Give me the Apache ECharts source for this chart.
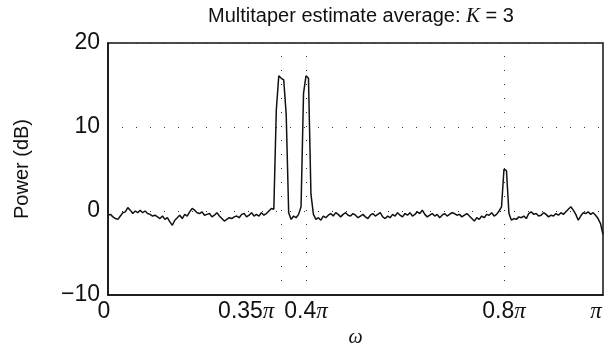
<!DOCTYPE html>
<html>
<head>
<meta charset="utf-8">
<script src="https://cdn.jsdelivr.net/npm/echarts@6/dist/echarts.min.js"></script>
<style>
  html, body { margin: 0; padding: 0; background: #fff; }
  #chart { width: 608px; height: 353px; }
</style>
</head>
<body>
<div id="chart"></div>
<script>
// Frequency axis in units of pi, sampled every 0.005*pi from 0 to pi
const freqStep = 0.005;

// Averaged multitaper power spectrum estimate (dB), one value per bin
const powerDb = [
  -0.5, -0.4, -0.7, -0.9, -1.0, -0.6, -0.2, -0.1,  0.4,  0.1,
  -0.3,  0.0, -0.2,  0.1, -0.2,  0.0, -0.3, -0.4, -0.6, -0.5,
  -0.7, -0.9, -0.6, -1.0, -0.8, -1.3, -1.7, -1.1, -0.8, -0.5,
  -0.9, -0.4, -0.6, -0.1,  0.3,  0.1, -0.2, -0.3, -0.1, -0.5,
  -0.4, -0.3, -0.7, -0.5, -0.2, -0.6, -0.9, -1.2, -1.0, -0.8,
  -0.9, -0.7, -0.6, -0.8, -0.4, -0.3, -0.7, -0.5, -0.2, -0.6,
  -0.4, -0.6, -0.2, -0.5, -0.3,  0.0,  0.3,  0.2, 12.0, 16.1,
  15.8, 15.6, 11.5, -0.2, -1.0, -0.6, -0.8, -0.4,  0.5, 14.0,
  16.1, 15.8,  2.0, -0.4, -1.0, -0.8, -1.1, -0.6, -0.8, -0.5,
  -0.3, -0.6, -0.2, -0.4, -0.7, -0.4, -0.2, -0.5, -0.6, -0.3,
  -0.5, -0.8, -0.6, -0.4, -0.7, -0.9, -0.5, -0.3, -0.6, -0.4,
  -0.2, -0.7, -0.9, -0.6, -0.8, -0.4, -0.6, -0.2, -0.5, -0.7,
  -0.3, -0.5, -0.2, -0.6, -0.4, -0.1, -0.3,  0.1, -0.4, -0.7,
  -0.5, -0.3, -0.6, -0.4, -0.8, -0.5, -0.3, -0.6, -0.4, -0.2,
  -0.3, -0.5, -0.4, -0.7, -0.5, -0.3, -0.6, -0.9, -1.2, -0.8,
  -1.0, -0.6, -0.8, -0.4, -0.5, -0.2, -0.6, -0.4,  0.0,  0.5,
   5.0,  4.8, -0.3, -1.1, -0.9, -1.0, -0.7, -0.8, -0.6, -0.9,
  -0.3, -0.1, -0.4, -0.3, -0.6, -0.5, -0.2, -0.4, -0.7, -0.5,
  -0.6, -0.3, -0.5, -0.2, -0.4, -0.1,  0.2,  0.5,  0.1, -0.4,
  -1.1, -0.6, -0.2, -0.3, -0.1, -0.4, -0.2, -0.5, -0.9, -1.5,
  -2.8
];

// Tick positions on the frequency axis (multiples of pi) and their labels
const xTicks = [0, 0.35, 0.4, 0.8, 1];
const xTickLabels = ['{z|0}', '0.35{piL|π}', '0.4{pi|π}', '0.8{pi|π}', '{piEnd|π}'];
// Frequencies marked with vertical grid lines
const xGridLines = [0.35, 0.4, 0.8];

// Power axis ticks
const yTicks = [-10, 0, 10, 20];

const sans = 'Liberation Sans, Arial, Helvetica, sans-serif';
const serif = 'Liberation Serif, Times New Roman, serif';
const dotted = [1, 13];
const ink = '#111';

const seriesData = powerDb.map((v, i) => [i * freqStep, v]);

const piStyle = { fontFamily: serif, fontStyle: 'italic', fontSize: 23, color: ink };

const chart = echarts.init(document.getElementById('chart'), null, { renderer: 'canvas' });

chart.setOption({
  animation: false,
  backgroundColor: '#fff',
  title: {
    text: 'Multitaper estimate average: {k|K} = 3',
    left: 356,
    textAlign: 'center',
    top: 1,
    textStyle: {
      fontFamily: sans,
      fontSize: 20,
      fontWeight: 'normal',
      color: ink,
      rich: {
        k: { fontFamily: serif, fontStyle: 'italic', fontSize: 21, color: ink }
      }
    }
  },
  grid: {
    left: 108,
    right: 5,
    top: 43,
    bottom: 57,
    show: true,
    borderColor: ink,
    borderWidth: 1.5,
    backgroundColor: 'transparent'
  },
  xAxis: {
    type: 'value',
    min: 0,
    max: 1,
    name: 'ω',
    nameLocation: 'middle',
    nameGap: 33,
    nameTextStyle: { fontFamily: serif, fontStyle: 'italic', fontSize: 20, color: ink },
    axisLine: { show: true, onZero: false, lineStyle: { color: ink, width: 1.5 } },
    axisTick: { show: false },
    splitLine: { show: false },
    axisLabel: {
      customValues: xTicks,
      margin: 5,
      formatter: (v) => xTickLabels[xTicks.indexOf(v)],
      fontFamily: sans,
      fontSize: 23,
      color: ink,
      rich: {
        z: { fontFamily: sans, fontSize: 23, color: ink, padding: [0, 8, 0, 0] },
        pi: piStyle,
        piL: Object.assign({}, piStyle, { padding: [0, 70, 0, 0] }),
        piEnd: Object.assign({}, piStyle, { padding: [0, 14, 0, 0] })
      }
    }
  },
  yAxis: {
    type: 'value',
    min: yTicks[0],
    max: yTicks[yTicks.length - 1],
    interval: 10,
    name: 'Power (dB)',
    nameLocation: 'middle',
    nameGap: 76,
    nameTextStyle: { fontFamily: sans, fontSize: 20, color: ink },
    axisLine: { show: true, lineStyle: { color: ink, width: 1.5 } },
    axisTick: { show: false },
    axisLabel: {
      margin: 8,
      fontFamily: sans,
      fontSize: 23,
      color: ink,
      formatter: (v) => (v < 0 ? '\u2212' + Math.abs(v) : String(v))
    },
    splitLine: {
      show: true,
      lineStyle: { color: '#333', width: 1, type: dotted }
    }
  },
  series: [{
    type: 'line',
    data: seriesData,
    showSymbol: false,
    lineStyle: { color: ink, width: 1.5 },
    markLine: {
      silent: true,
      symbol: 'none',
      label: { show: false },
      lineStyle: { color: '#333', width: 1, type: dotted },
      data: xGridLines.map((x) => ({ xAxis: x }))
    }
  }]
});
</script>
</body>
</html>
